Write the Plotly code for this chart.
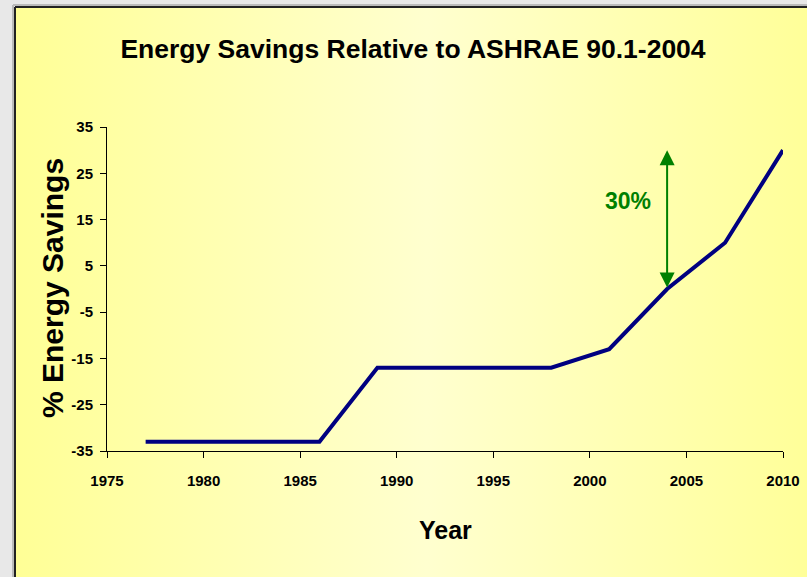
import base64
import plotly.graph_objects as go

# ---- data ----
years = [1977, 1986, 1989, 1998, 2001, 2004, 2007, 2010]
savings = [-33, -33, -17, -17, -13, 0, 10, 30]
x_ticks = [1975, 1980, 1985, 1990, 1995, 2000, 2005, 2010]
y_ticks = [-35, -25, -15, -5, 5, 15, 25, 35]
arrow_year = 2004
arrow_from = 0
arrow_to = 30
arrow_label = "30%"
label_year = 2002
label_value = 19

title_text = "Energy Savings Relative to ASHRAE 90.1-2004"
x_title = "Year"
y_title = "% Energy Savings"

FONT = "Liberation Sans, Arial, sans-serif"

W, H = 807, 577
L, R, T, B = 107, 24, 127, 126
PW, PH = W - L - R, H - T - B


def px(xp):
    return (xp - L) / PW


def py(yp):
    return (H - B - yp) / PH


svg = (
    '<svg xmlns="http://www.w3.org/2000/svg" width="792" height="570" preserveAspectRatio="none">'
    '<defs><linearGradient id="g" x1="0" y1="0" x2="1" y2="0">'
    '<stop offset="0" stop-color="#FFFF96"/>'
    '<stop offset="0.52" stop-color="#FFFFCF"/>'
    '<stop offset="1" stop-color="#FFFF99"/>'
    '</linearGradient></defs>'
    '<rect width="792" height="570" fill="url(#g)"/></svg>'
)
src = "data:image/svg+xml;base64," + base64.b64encode(svg.encode()).decode()

fig = go.Figure()
fig.add_trace(go.Scatter(
    x=years, y=savings, mode="lines",
    line=dict(color="#000080", width=4),
    cliponaxis=False, hoverinfo="skip", showlegend=False,
))

fig.update_layout(
    width=W, height=H,
    margin=dict(l=L, r=R, t=T, b=B, autoexpand=False),
    paper_bgcolor="#E8E8E8",
    plot_bgcolor="white",
    showlegend=False,
    title=dict(
        text="<b>" + title_text + "</b>",
        x=413 / W, xanchor="center", xref="container",
        y=1 - 49 / H, yanchor="middle", yref="container",
        font=dict(family=FONT, size=26.5, color="black"),
    ),
    images=[dict(
        source=src, xref="paper", yref="paper",
        x=px(15), y=py(7), sizex=792 / PW, sizey=570 / PH,
        xanchor="left", yanchor="top", sizing="stretch", layer="below",
    )],
    shapes=[
        dict(type="line", xref="paper", yref="paper",
             x0=px(13), y0=py(H), x1=px(13), y1=py(5),
             line=dict(color="#BBBBBB", width=2)),
        dict(type="line", xref="paper", yref="paper",
             x0=px(13), y0=py(5), x1=px(W), y1=py(5),
             line=dict(color="#BBBBBB", width=2)),
        dict(type="line", xref="paper", yref="paper",
             x0=px(15), y0=py(H), x1=px(15), y1=py(7),
             line=dict(color="#222222", width=2)),
        dict(type="line", xref="paper", yref="paper",
             x0=px(15), y0=py(7), x1=px(W), y1=py(7),
             line=dict(color="#222222", width=2)),
    ],
    xaxis=dict(
        range=[x_ticks[0], x_ticks[-1]], tickvals=x_ticks,
        ticktext=[str(v) for v in x_ticks],
        showgrid=False, zeroline=False, automargin=False,
        showline=True, linecolor="black", linewidth=1,
        ticks="outside", ticklen=6, tickcolor="black", tickwidth=1,
        tickfont=dict(family=FONT, size=15, color="black", weight="bold"),
        ticklabelstandoff=10,
    ),
    yaxis=dict(
        range=[y_ticks[0], y_ticks[-1]], tickvals=y_ticks,
        ticktext=[str(v) for v in y_ticks],
        showgrid=False, zeroline=False, automargin=False,
        showline=True, linecolor="black", linewidth=1,
        ticks="outside", ticklen=6, tickcolor="black", tickwidth=1,
        tickfont=dict(family=FONT, size=15, color="black", weight="bold"),
        ticklabelstandoff=4,
    ),
    annotations=[
        dict(text="<b>" + x_title + "</b>", xref="paper", yref="paper",
             x=px(445), y=py(530), xanchor="center", yanchor="middle",
             showarrow=False, font=dict(family=FONT, size=25, color="black")),
        dict(text="<b>" + y_title + "</b>", xref="paper", yref="paper",
             x=px(52), y=py(288), xanchor="center", yanchor="middle",
             textangle=-90, showarrow=False,
             font=dict(family=FONT, size=30, color="black")),
        dict(text="", x=arrow_year, y=arrow_to, ax=arrow_year, ay=arrow_from,
             xref="x", yref="y", axref="x", ayref="y",
             showarrow=True, arrowside="end+start",
             arrowhead=2, startarrowhead=2, arrowsize=1.5, startarrowsize=1.5,
             arrowwidth=2, arrowcolor="#008000"),
        dict(text="<b>" + arrow_label + "</b>", x=label_year, y=label_value,
             xref="x", yref="y", showarrow=False,
             font=dict(family=FONT, size=23, color="#008000")),
    ],
)

fig.write_html(
    "out.html",
    config={"displayModeBar": False},
    post_script="document.body.style.margin='0px';document.body.style.overflow='hidden';",
)
